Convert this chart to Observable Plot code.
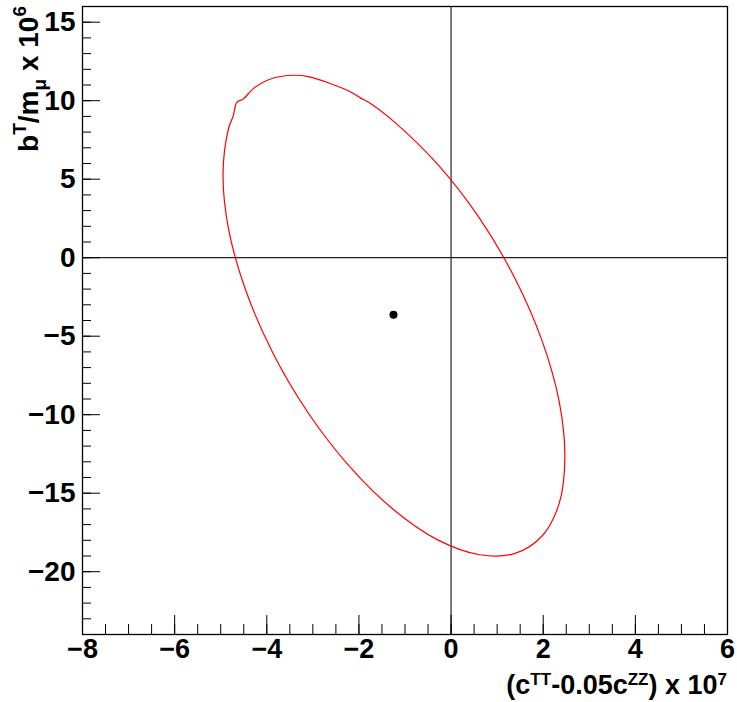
<!DOCTYPE html>
<html>
<head>
<meta charset="utf-8">
<script src="https://cdn.jsdelivr.net/npm/d3@7"></script>
<script src="https://cdn.jsdelivr.net/npm/@observablehq/plot@0.6"></script>
<style>
  body { margin: 0; background: #fff; }
  svg { font-family: "Liberation Sans", Arial, sans-serif; }
</style>
</head>
<body>
<div id="chart"></div>
<script>
// Contour (closed)
const contourX = [2.47, 2.35, 1.98, 1.39, 0.62, -0.28, -1.24, -2.20, -3.10, -3.87, -4.46, -4.83, -4.95, -4.83, -4.73, -4.65, -4.51, -4.28, -3.87, -3.42, -3.10, -2.20, -1.97, -1.79, -1.24, -0.28, 0.62, 1.39, 1.98, 2.35];
const contourY = [-12.73, -15.62, -17.71, -18.83, -18.92, -17.99, -16.07, -13.31, -9.89, -6.05, -2.06, 1.83, 5.33, 8.23, 9.02, 9.90, 10.11, 10.80, 11.43, 11.62, 11.53, 10.59, 10.18, 9.90, 8.67, 5.91, 2.50, -1.34, -5.33, -9.22];
// Best-fit point
const pointX = [-1.25];
const pointY = [-3.63];
// Axis ticks
const xMajor = [-8, -6, -4, -2, 0, 2, 4, 6];
const xMinor = d3.range(-8, 6.01, 0.5);
const yMajor = [-20, -15, -10, -5, 0, 5, 10, 15];
const yMinor = d3.range(-24, 16.01, 1);

const contour = contourX.map((x, i) => ({x, y: contourY[i]}));
const pts = pointX.map((x, i) => ({x, y: pointY[i]}));

const W = 737, H = 702;
const mL = 82, mR = 10, mT = 6, mB = 68;
const pw = W - mL - mR, ph = H - mT - mB;
const fmt = d => d < 0 ? "\u2212" + Math.abs(d) : String(d);

const plot = Plot.plot({
  width: W, height: H,
  marginLeft: mL, marginRight: mR, marginTop: mT, marginBottom: mB,
  x: {domain: [-8, 6]},
  y: {domain: [-24, 16]},
  style: {fontFamily: "Liberation Sans, Arial, sans-serif", background: "#fff"},
  marks: [
    Plot.ruleX([0], {stroke: "#222", strokeWidth: 1.2}),
    Plot.ruleY([0], {stroke: "#222", strokeWidth: 1.2}),
    // bottom ticks (inside)
    Plot.ruleX(xMinor, {stroke: "#000", strokeWidth: 1, insetTop: ph - 10}),
    Plot.ruleX(xMajor, {stroke: "#000", strokeWidth: 1, insetTop: ph - 19}),
    // left ticks (inside)
    Plot.ruleY(yMinor, {stroke: "#000", strokeWidth: 1, insetRight: pw - 9}),
    Plot.ruleY(yMajor, {stroke: "#000", strokeWidth: 1, insetRight: pw - 18}),
    Plot.line(contour, {x: "x", y: "y", curve: "catmull-rom-closed", stroke: "#ff0000", strokeWidth: 1.2}),
    Plot.dot(pts, {x: "x", y: "y", r: 4, fill: "#000"}),
    Plot.axisX(xMajor, {tickSize: 0, tickPadding: 4, fontSize: 27, fontWeight: "bold", label: null, tickFormat: fmt}),
    Plot.axisY(yMajor, {tickSize: 0, tickPadding: 7, fontSize: 28, fontWeight: "bold", label: null, tickFormat: fmt}),
    Plot.frame({stroke: "#000", strokeWidth: 1.3})
  ]
});
document.getElementById("chart").appendChild(plot);

const svg = d3.select(plot);
// X title
const xt = svg.append("text")
  .attr("x", 727).attr("y", 694)
  .attr("text-anchor", "end")
  .attr("font-size", 27).attr("font-weight", "bold").attr("fill", "#000");
xt.append("tspan").text("(c");
xt.append("tspan").attr("dy", -9).attr("font-size", 17).text("TT");
xt.append("tspan").attr("dy", 9).text("-0.05c");
xt.append("tspan").attr("dy", -9).attr("font-size", 17).text("ZZ");
xt.append("tspan").attr("dy", 9).text(") x 10");
xt.append("tspan").attr("dy", -9).attr("font-size", 17).text("7");

// Y title
const yt = svg.append("text")
  .attr("transform", "translate(38,6) rotate(-90)")
  .attr("text-anchor", "end")
  .attr("font-size", 28).attr("font-weight", "bold").attr("fill", "#000");
yt.append("tspan").text("b");
yt.append("tspan").attr("dy", -12).attr("font-size", 19).text("T");
yt.append("tspan").attr("dy", 12).text("/m");
yt.append("tspan").attr("dy", 8).attr("font-size", 19).text("\u03bc");
yt.append("tspan").attr("dy", -8).text(" x 10");
yt.append("tspan").attr("dy", -12).attr("font-size", 19).text("6");
</script>
</body>
</html>
